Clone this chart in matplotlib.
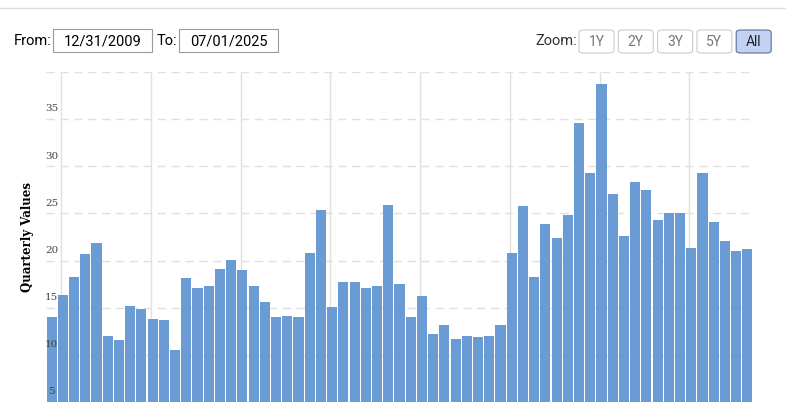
import numpy as np
import matplotlib.pyplot as plt
from matplotlib.patches import FancyBboxPatch

# quarterly values, 2009 Q4 .. 2025 Q2
values = [13.97, 16.38, 18.29, 20.72, 21.89, 12.03, 11.61, 15.21, 14.89, 13.83,
          13.73, 10.55, 18.18, 17.12, 17.33, 19.13, 20.09, 19.03, 17.33, 15.64,
          14.05, 14.15, 13.97, 20.83, 25.39, 15.11, 17.76, 17.76, 17.12, 17.33,
          25.92, 17.54, 14.05, 16.27, 12.24, 13.20, 11.71, 12.03, 11.93, 12.03,
          13.20, 20.83, 25.81, 18.29, 23.90, 22.42, 24.86, 34.61, 29.31, 38.75,
          27.08, 22.63, 28.36, 27.51, 24.33, 25.07, 25.07, 21.36, 29.31, 24.12,
          22.10, 21.04, 21.25]
y_ticks = [5, 10, 15, 20, 25, 30, 35]
zoom_buttons = ["1Y", "2Y", "3Y", "5Y", "All"]
date_from = "12/31/2009"
date_to = "07/01/2025"

W, H = 786, 416
fig = plt.figure(figsize=(W / 100, H / 100), dpi=100)

def fx(px):
    return px / W

def fy(py):
    return 1 - py / H

# plot area
ax = fig.add_axes([fx(46), fy(402), fx(753) - fx(46), fy(72) - fy(402)])
x = np.arange(len(values))
ax.bar(x, values, width=0.9, color="#6a9bd4", zorder=2)
ax.set_xlim(-0.5, len(values) - 0.5)
ax.set_ylim(5, 40)
for yv in y_ticks + [40]:
    ax.axhline(yv, color="#e0e0e0", lw=1, ls=(0, (6, 4)), zorder=1)
for xv in np.arange(0.84, len(values), 8):
    ax.axvline(xv, color="#e0e0e0", lw=1, zorder=1)
for yv in y_ticks:
    ax.text(0.0, yv + 0.6, str(yv), fontsize=7.5, family="DejaVu Serif",
            color="#444444", ha="center", va="bottom", zorder=3)
ax.set_xticks([])
ax.set_yticks([])
for s in ax.spines.values():
    s.set_visible(False)
ax.set_facecolor("none")

fig.text(fx(28), fy(237), "Quarterly Values", rotation=90, ha="center", va="center",
         fontsize=8.5, fontweight="bold", family="DejaVu Serif")

# top separator line
fig.add_artist(plt.Line2D([0, 1], [fy(8), fy(8)], color="#dddddd", lw=1))

# date inputs
fig.text(fx(14), fy(41), "From:", fontsize=10.5, family="Roboto", va="center")
fig.text(fx(157), fy(41), "To:", fontsize=10.5, family="Roboto", va="center")
for x0, x1, label in [(53, 152, date_from), (179, 278, date_to)]:
    fig.add_artist(plt.Rectangle((fx(x0), fy(52)), fx(x1 - x0), fy(29) - fy(52),
                                 fill=False, ec="#999999", lw=0.8))
    fig.text(fx((x0 + x1) / 2), fy(41), label, fontsize=10.5, family="Roboto",
             ha="center", va="center")

# zoom buttons
fig.text(fx(535), fy(41), "Zoom:", fontsize=10.5, family="Roboto", va="center", color="#333333")
for i, lab in enumerate(zoom_buttons):
    x0 = 579 + i * 39.3
    sel = lab == "All"
    fig.add_artist(FancyBboxPatch((fx(x0), fy(53)), fx(35), fy(30) - fy(53),
                                  boxstyle="round,pad=0,rounding_size=0.006",
                                  fc="#c3d2f2" if sel else "white",
                                  ec="#5d6f99" if sel else "#cccccc", lw=0.8))
    fig.text(fx(x0 + 17.5), fy(41.5), lab, fontsize=10, family="Roboto",
             ha="center", va="center", color="#222222" if sel else "#777777")

fig.savefig("out.png", dpi=100)
